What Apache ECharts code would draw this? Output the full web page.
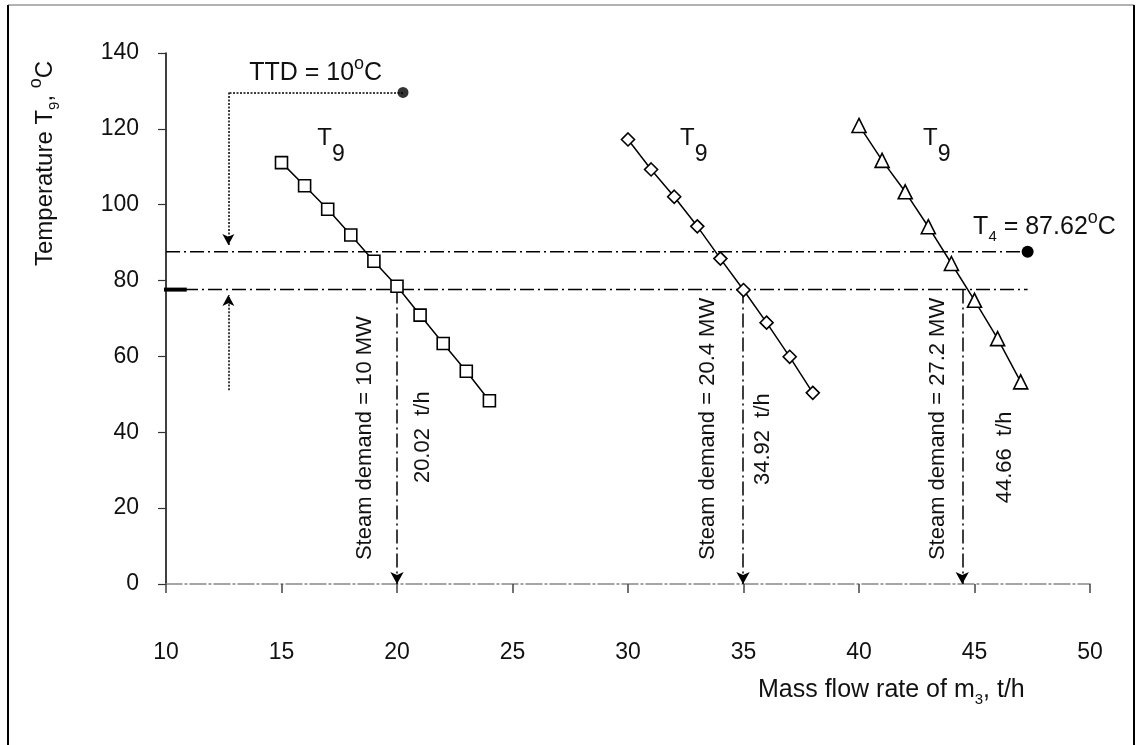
<!DOCTYPE html>
<html><head><meta charset="utf-8">
<script src="https://cdn.jsdelivr.net/npm/echarts@6/dist/echarts.min.js"></script>
<style>html,body{margin:0;padding:0;background:#fff}#c{width:1137px;height:745px}</style>
</head><body><div id="c"></div>
<script>
// ---------------- data ----------------
const xTicks = [10, 15, 20, 25, 30, 35, 40, 45, 50];
const yTicks = [0, 20, 40, 60, 80, 100, 120, 140];
const flow10MW = [15, 16, 17, 18, 19, 20, 21, 22, 23, 24];
const temp10MW = [111.1, 105.0, 98.8, 92.0, 85.1, 78.5, 70.9, 63.4, 56.1, 48.3];
const flow20MW = [30, 31, 32, 33, 34, 35, 36, 37, 38];
const temp20MW = [117.2, 109.3, 102.1, 94.3, 85.8, 77.5, 68.9, 59.9, 50.4];
const flow27MW = [40, 41, 42, 43, 44, 45, 46, 47];
const temp27MW = [120.9, 111.7, 103.4, 94.2, 84.5, 74.8, 64.7, 53.3];
const T4 = 87.62;           // hot-side temperature, °C
const TTD = 10;             // terminal temperature difference, °C
const lineStartX = 10;      // horizontal reference lines start
const lowLineStartX = 9.74;
const lineEndX = 47.3;      // horizontal reference lines end (T4 dot)
const demandFlowsDrawn = [20.0, 34.98, 44.47];
const demandLabels = ['Steam demand = 10 MW', 'Steam demand = 20.4 MW', 'Steam demand = 27.2 MW'];
const flowLabels = ['20.02  t/h', '34.92  t/h', '44.66  t/h'];
const ttdDot = [20.26, 129.6];
const ttdArrowX = 12.7;
const ttdArrowDownTo = 89.4;
const ttdArrowUpFrom = 51.1;
const ttdArrowUpTo = 76.2;
const thickMarkEndX = 10.9;

// annotation anchors (data coordinates)
const t9Anchors = [[16.55, 117.4], [32.25, 117.4], [42.77, 117.4]];
const ttdAnchor = [13.6, 134.6];
const t4Anchor = [44.94, 94.1];
const demandAnchorsX = [18.61, 33.46, 43.42];
const demandAnchorY = 6.3;
const flowAnchorsX = [21.13, 35.84, 46.32];
const flowAnchorsY = [26.6, 26.1, 21.3];

// ---------------- chart ----------------
const FF = '"Liberation Sans", Arial, Helvetica, sans-serif';
const chart = echarts.init(document.getElementById('c'), null, {renderer: 'canvas'});
const DASHDOT = [14, 4, 2, 4];
const zip = (a, b) => a.map((v, i) => [v, b[i]]);
const Tlow = T4 - TTD;

function markerSeries(xs, ys, symbol, size) {
  return {
    type: 'line', data: zip(xs, ys), symbol: symbol, symbolSize: size,
    showAllSymbol: true, z: 5,
    lineStyle: {color: '#000', width: 1.5},
    itemStyle: {color: '#fff', borderColor: '#000', borderWidth: 1.6},
    emphasis: {disabled: true}, silent: true
  };
}

const option = {
  animation: false,
  backgroundColor: '#fff',
  grid: {left: 166, right: 47, top: 53, bottom: 161, containLabel: false, outerBoundsMode: 'none'},
  xAxis: {
    type: 'value', min: xTicks[0], max: xTicks[xTicks.length - 1], interval: 5,
    axisLine: {show: true, onZero: true, lineStyle: {color: '#888', width: 1.5, type: [16, 3, 2, 3]}},
    axisTick: {show: true, length: 9, lineStyle: {color: '#444', width: 1.5}},
    axisLabel: {margin: 57, fontSize: 23, color: '#111', fontFamily: FF},
    splitLine: {show: false}
  },
  yAxis: {
    type: 'value', min: yTicks[0], max: yTicks[yTicks.length - 1], interval: 20,
    axisLine: {show: true, lineStyle: {color: '#000', width: 1.5}},
    axisTick: {show: true, length: 8, lineStyle: {color: '#333', width: 1.2}},
    axisLabel: {margin: 27, fontSize: 23, color: '#111', fontFamily: FF},
    splitLine: {show: false}
  },
  series: [
    markerSeries(flow10MW, temp10MW, 'rect', 12),
    markerSeries(flow20MW, temp20MW, 'diamond', 13),
    markerSeries(flow27MW, temp27MW, 'triangle', 14),
    { // T4 line with dot
      type: 'line', z: 3, silent: true,
      data: [{value: [lineStartX, T4], symbol: 'none'}, {value: [lineEndX, T4], symbol: 'circle', symbolSize: 12}],
      lineStyle: {color: '#000', width: 1.5, type: DASHDOT},
      itemStyle: {color: '#000'}
    },
    { // T4 - TTD line
      type: 'line', z: 3, silent: true, symbol: 'none',
      data: [[lowLineStartX, Tlow], [lineEndX, Tlow]],
      lineStyle: {color: '#000', width: 1.5, type: DASHDOT}
    },
    { // thick mark at left
      type: 'line', z: 4, silent: true, symbol: 'none',
      data: [[lowLineStartX, Tlow], [thickMarkEndX, Tlow]],
      lineStyle: {color: '#000', width: 4}
    },
    { // TTD dot
      type: 'scatter', z: 4, silent: true, symbol: 'circle', symbolSize: 11,
      data: [ttdDot], itemStyle: {color: '#000'}
    },
    { // vertical demand lines + TTD dotted arrows
      type: 'line', data: [], silent: true,
      markLine: {
        silent: true, animation: false, label: {show: false},
        emphasis: {disabled: true},
        symbol: ['none', 'arrow'], symbolSize: [0, 11],
        lineStyle: {color: '#000', width: 1.5, type: DASHDOT},
        data: demandFlowsDrawn.map(x => [
          {coord: [x, Tlow], symbol: 'none'},
          {coord: [x, 0], symbol: 'arrow', symbolSize: [10, 12]}
        ]).concat([
          [{coord: ttdDot, symbol: 'none', lineStyle: {type: [2, 1.5], width: 1.5}},
           {coord: [ttdArrowX, ttdDot[1]], symbol: 'none'}],
          [{coord: [ttdArrowX, ttdDot[1]], symbol: 'none', lineStyle: {type: [2, 1.5], width: 1.5}},
           {coord: [ttdArrowX, ttdArrowDownTo], symbol: 'arrow', symbolSize: [9, 11]}],
          [{coord: [ttdArrowX, ttdArrowUpFrom], symbol: 'none', lineStyle: {type: [2, 1.5], width: 1.5}},
           {coord: [ttdArrowX, ttdArrowUpTo], symbol: 'arrow', symbolSize: [9, 11]}]
        ])
      }
    }
  ]
};
chart.setOption(option);

// ---------------- text annotations ----------------
const RICH = {
  sub9: {fontSize: 23, lineHeight: 26, fontFamily: FF, fill: '#111', padding: [32, 0, 0, 0]},
  sub: {fontSize: 15, lineHeight: 26, fontFamily: FF, fill: '#111', padding: [20, 0, 0, 0]},
  sup: {fontSize: 18, lineHeight: 26, fontFamily: FF, fill: '#111', padding: [0, 0, 18, 0]}
};
const px = p => chart.convertToPixel({gridIndex: 0}, p);
function text(pos, str, size, extra) {
  return Object.assign({
    type: 'text', x: pos[0], y: pos[1], silent: true, z: 10,
    style: {text: str, fill: '#111', fontFamily: FF, fontSize: size, lineHeight: 26,
            align: 'left', verticalAlign: 'middle', rich: RICH}
  }, extra || {});
}
const g = [];
t9Anchors.forEach(a => g.push(text(px(a), 'T{sub9|9}', 24)));
g.push(text(px(ttdAnchor), 'TTD = 10{sup|o}C', 25));
g.push(text(px(t4Anchor), 'T{sub|4} = 87.62{sup|o}C', 25));
demandAnchorsX.forEach((x, i) => g.push(text(px([x, demandAnchorY]), demandLabels[i], 22, {rotation: Math.PI / 2})));
flowAnchorsX.forEach((x, i) => g.push(text(px([x, flowAnchorsY[i]]), flowLabels[i], 22, {rotation: Math.PI / 2})));
// axis titles
g.push(text([45, 266], 'Temperature T{sub|9}, {sup|o}C', 24, {rotation: Math.PI / 2}));
g.push(text([758, 690], 'Mass flow rate of m{sub|3}, t/h', 25));
// outer frame
g.push({type: 'line', silent: true, shape: {x1: 8, y1: 5, x2: 1134, y2: 5}, style: {stroke: '#999', lineWidth: 1.5}});
g.push({type: 'line', silent: true, shape: {x1: 8, y1: 5, x2: 8, y2: 760}, style: {stroke: '#000', lineWidth: 2}});
g.push({type: 'line', silent: true, shape: {x1: 1134, y1: 5, x2: 1134, y2: 760}, style: {stroke: '#000', lineWidth: 2}});
chart.setOption({graphic: {elements: g}});
</script>
</body></html>
